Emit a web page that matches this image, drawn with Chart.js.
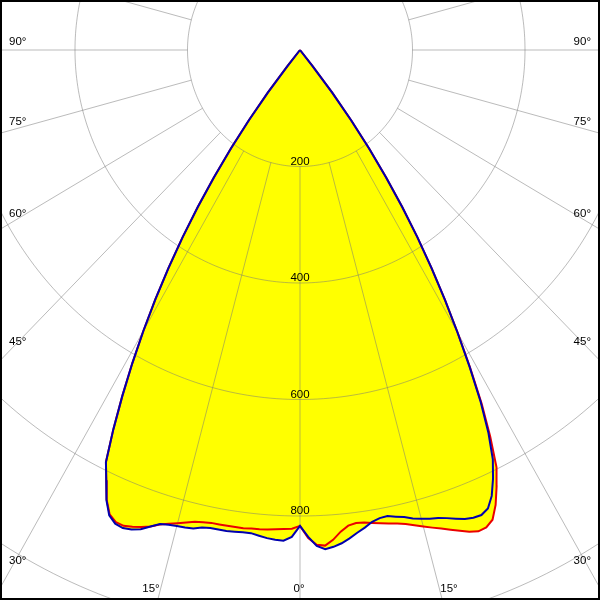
<!DOCTYPE html>
<html><head><meta charset="utf-8">
<script src="https://cdn.jsdelivr.net/npm/chart.js@4"></script>
<style>html,body{margin:0;padding:0;background:#fff;}canvas{display:block;}</style>
</head><body>
<canvas id="c" width="600" height="600"></canvas>
<script>
// Polar luminous intensity data (cd), angle from nadir in degrees
const halfAngles = [0,1,2,3,4,5,6,7,8,9,10,11,12,13,14,15,16,17,18,19,20,21,22,23,24,25,26,27,28,29,30,31,32,33,34,35,36,37,38,39,40,90];
const blueLeft  = [817,836,843,842,840,837,834,834,835,836,836,836,838,843,845,846,848,851,860,870,876,879,877,868,846,815,787,731,673,615,557,499,441,383,325,267,209,151,93,35,0,0];
const blueRight = [817,836,852,858,855,850,843,835,828,820,816,815,819,823,829,833,837,840,845,851,857,860,861,855,838,812,782,738,684,622,560,500,441,383,325,267,209,151,93,35,0,0];
const redLeft   = [817,822,823,824,825,826,826,827,827,827,827,827,829,831,836,841,846,852,860,866,871,875,874,866,845,815,787,731,673,615,557,499,441,383,325,267,209,151,93,35,0,0];
const redRight  = [817,838,850,852,843,830,821,818,819,822,825,828,831,835,841,847,853,859,866,873,880,885,884,876,855,827,797,745,688,624,561,500,441,383,325,267,209,151,93,35,0,0];

const ringValues = [200,400,600,800,1000];
const ringLabels = ['200','400','600','800'];
const spokeStep = 15;
const sideAngleLabels = ['90°','75°','60°','45°','30°'];
const bottomAngleLabels = ['15°','0°','15°'];

function toXY(theta, I){ const r = theta*Math.PI/180; return {x: I*Math.sin(r), y: -I*Math.cos(r)}; }
function buildCurve(left, right){
  const pts = [];
  for (let i = halfAngles.length-1; i >= 0; i--) pts.push(toXY(-halfAngles[i], left[i]));
  for (let i = 1; i < halfAngles.length; i++) pts.push(toXY(halfAngles[i], right[i]));
  return pts;
}

const polarPlugin = {
  id: 'polarGrid',
  beforeDraw(chart){
    const ctx = chart.ctx;
    ctx.save(); ctx.fillStyle = '#fff'; ctx.fillRect(0,0,chart.width,chart.height); ctx.restore();
  },
  beforeDatasetsDraw(chart){
    const ctx = chart.ctx, xs = chart.scales.x, ys = chart.scales.y;
    const px = (v)=>xs.getPixelForValue(v), py = (v)=>ys.getPixelForValue(v);
    ctx.save();
    ctx.fillStyle = '#ffff00';
    chart.data.datasets.forEach((ds, i) => {
      const meta = chart.getDatasetMeta(i);
      ctx.beginPath();
      meta.data.forEach((el, j) => { if (j === 0) ctx.moveTo(el.x, el.y); else ctx.lineTo(el.x, el.y); });
      ctx.closePath();
      ctx.fill();
    });
    ctx.strokeStyle = 'rgba(120,120,120,0.5)';
    ctx.lineWidth = 1;
    ringValues.forEach(r => {
      ctx.beginPath();
      for (let t = 0; t <= 360; t += 1) {
        const p = toXY(t, r);
        if (t === 0) ctx.moveTo(px(p.x), py(p.y)); else ctx.lineTo(px(p.x), py(p.y));
      }
      ctx.closePath();
      ctx.stroke();
    });
    for (let a = 0; a < 360; a += spokeStep) {
      const p0 = toXY(a, ringValues[0]), p1 = toXY(a, 2000);
      ctx.beginPath();
      ctx.moveTo(px(p0.x), py(p0.y));
      ctx.lineTo(px(p1.x), py(p1.y));
      ctx.stroke();
    }
    ctx.restore();
  },
  afterDraw(chart){
    const ctx = chart.ctx, xs = chart.scales.x, ys = chart.scales.y;
    ctx.save();
    ctx.fillStyle = '#000';
    ctx.font = '11.5px "Liberation Sans", Arial, sans-serif';
    ctx.textAlign = 'center';
    ctx.textBaseline = 'bottom';
    ringLabels.forEach((lab, i) => {
      ctx.fillText(lab, xs.getPixelForValue(0), ys.getPixelForValue(-ringValues[i]) + 1);
    });
    ctx.textBaseline = 'middle';
    const sideY = [42, 122, 214, 342, 561];
    sideAngleLabels.forEach((lab, i) => {
      ctx.textAlign = 'left'; ctx.fillText(lab, 9, sideY[i]);
      ctx.textAlign = 'right'; ctx.fillText(lab, 591, sideY[i]);
    });
    ctx.textAlign = 'center';
    const bx = [151, 299, 449];
    bottomAngleLabels.forEach((lab, i) => ctx.fillText(lab, bx[i], 589));
    ctx.fillStyle = '#000';
    ctx.fillRect(0,0,600,2); ctx.fillRect(0,598,600,2);
    ctx.fillRect(0,0,2,600); ctx.fillRect(598,0,2,600);
    ctx.restore();
  }
};

new Chart(document.getElementById('c'), {
  type: 'scatter',
  data: {
    datasets: [
      { label: 'C0-C180', data: buildCurve(blueLeft, blueRight), showLine: true, borderColor: 'rgb(0,0,175)', borderWidth: 2, pointRadius: 0, fill: false, tension: 0 },
      { label: 'C90-C270', data: buildCurve(redLeft, redRight), showLine: true, borderColor: 'rgb(235,0,0)', borderWidth: 2, pointRadius: 0, fill: false, tension: 0 }
    ]
  },
  options: {
    responsive: false,
    animation: false,
    devicePixelRatio: 1,
    layout: { padding: 0 },
    plugins: { legend: { display: false }, tooltip: { enabled: false } },
    scales: {
      x: { type: 'linear', min: -533.33, max: 533.33, display: false },
      y: { type: 'linear', min: -944.2, max: 85.84, display: false }
    }
  },
  plugins: [polarPlugin]
});
</script>
</body></html>
